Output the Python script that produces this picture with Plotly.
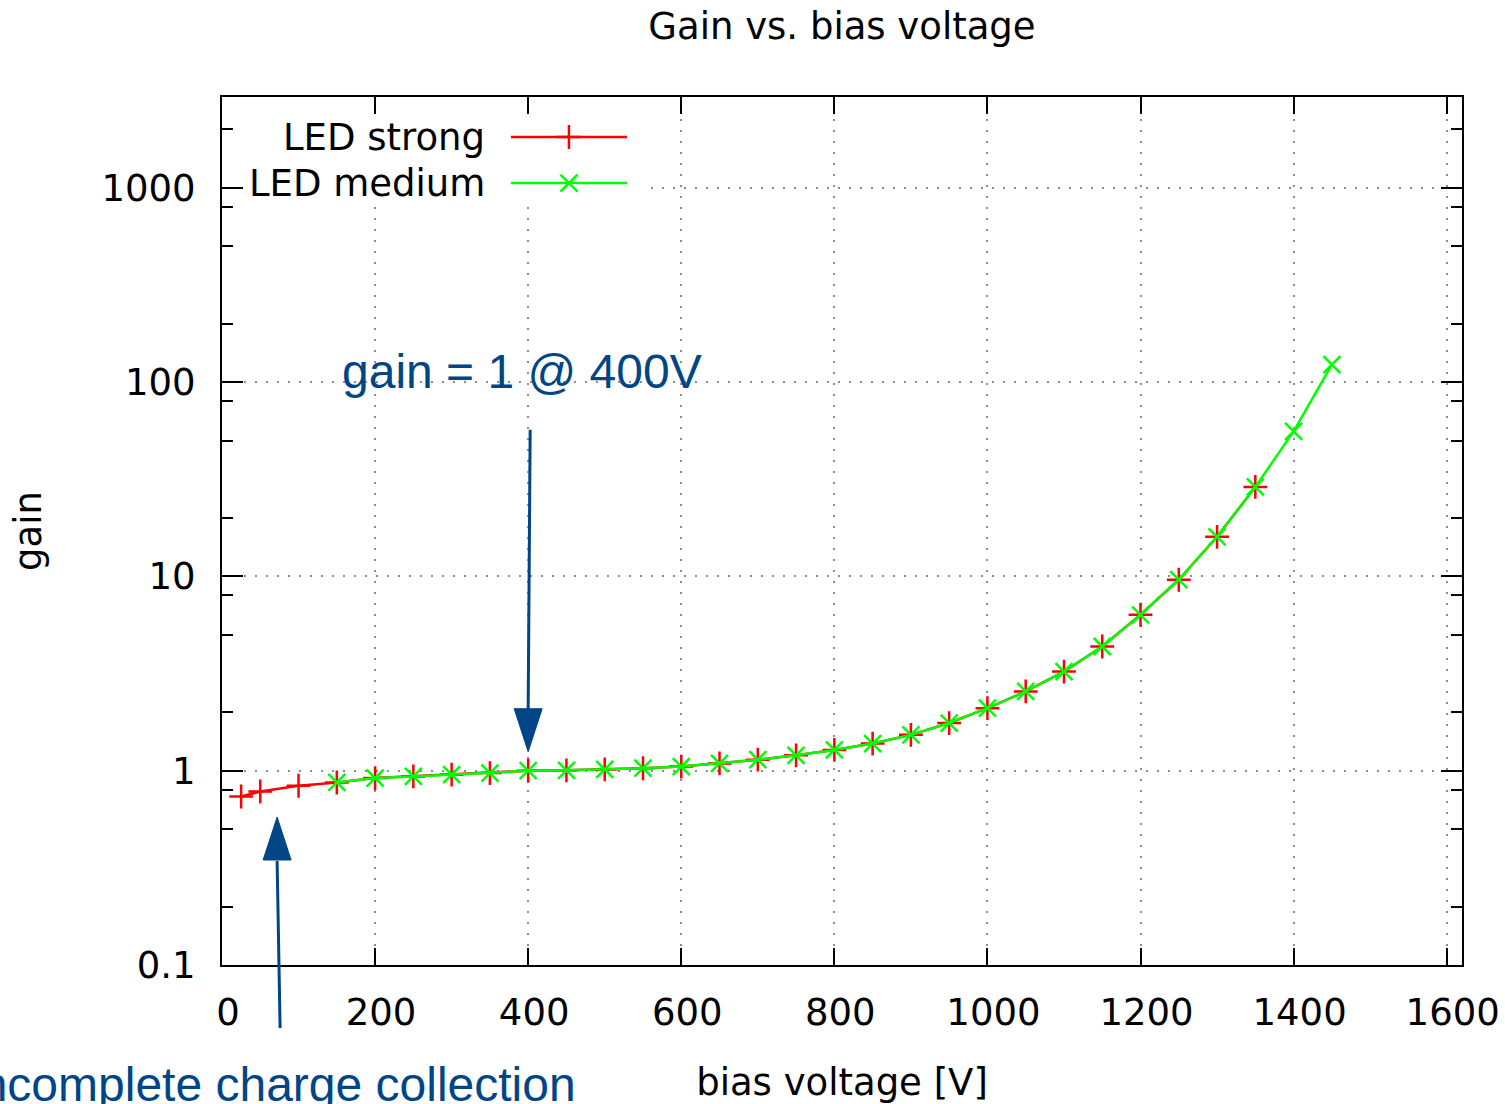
import plotly.graph_objects as go

# Gain measured at each bias voltage, for two LED intensities
voltage_strong = [25, 50, 100, 150, 200, 250, 300, 350, 400, 450, 500, 550, 600, 650,
                  700, 750, 800, 850, 900, 950, 1000, 1050, 1100, 1150, 1200, 1250, 1300, 1350]
gain_strong = [0.737, 0.782, 0.837, 0.87, 0.917, 0.935, 0.954, 0.973, 1.0, 1.005, 1.015, 1.03,
               1.05, 1.09, 1.14, 1.2, 1.28, 1.38, 1.53, 1.76, 2.1, 2.56, 3.24, 4.36, 6.35, 9.62,
               16.0, 28.9]

voltage_medium = [150, 200, 250, 300, 350, 400, 450, 500, 550, 600, 650, 700, 750, 800, 850,
                  900, 950, 1000, 1050, 1100, 1150, 1200, 1250, 1300, 1350, 1400, 1450]
gain_medium = [0.87, 0.917, 0.935, 0.954, 0.973, 1.0, 1.005, 1.015, 1.03, 1.05, 1.09, 1.14,
               1.2, 1.28, 1.38, 1.53, 1.76, 2.1, 2.56, 3.24, 4.36, 6.35, 9.62, 16.0, 28.9,
               55.8, 123.0]

series_names = ["LED strong", "LED medium"]
x_ticks = [0, 200, 400, 600, 800, 1000, 1200, 1400, 1600]
y_ticks = [0.1, 1, 10, 100, 1000]
y_tick_labels = ["0.1", "1", "10", "100", "1000"]
y_minor_ticks = [m * 10.0 ** e for e in range(-1, 4) for m in (2, 5, 8)]

# annotated operating points
nominal_voltage = 400
nominal_gain = 1.0
low_voltage_pointer = 72

FONT = "DejaVu Sans"
NOTE_FONT = "Liberation Sans"
NOTE_COLOR = "#004586"
RED = "#ff0000"
GREEN = "#00ff00"
FS = 37

fig = go.Figure()

fig.add_trace(go.Scatter(
    x=voltage_strong, y=gain_strong, name=series_names[0], mode="lines+markers",
    line=dict(color=RED, width=2.5),
    marker=dict(symbol="cross-thin-open", size=17, color=RED, line=dict(color=RED, width=2.5)),
    showlegend=False,
))
fig.add_trace(go.Scatter(
    x=voltage_medium, y=gain_medium, name=series_names[1], mode="lines+markers",
    line=dict(color=GREEN, width=2.5),
    marker=dict(symbol="x-thin-open", size=17, color=GREEN, line=dict(color=GREEN, width=2.5)),
    showlegend=False,
))

# gnuplot-style key on an overlay frame (0..1 in both directions):
# opaque white box, label on the left, line sample on the right
key_box_x = [0, 0.341, 0.341, 0, 0]
key_box_y = [0.8813, 0.8813, 1, 1, 0.8813]
fig.add_trace(go.Scatter(
    x=key_box_x, y=key_box_y, xaxis="x2", yaxis="y2", mode="lines", fill="toself",
    fillcolor="white", line=dict(width=0, color="white"), showlegend=False, hoverinfo="skip",
))

key_rows = [0.9539, 0.9009]
key_line_x = [0.233, 0.2798, 0.3266]
for name, row, color, sym in zip(series_names, key_rows, [RED, GREEN],
                                 ["cross-thin-open", "x-thin-open"]):
    fig.add_trace(go.Scatter(
        x=key_line_x, y=[row] * 3, xaxis="x2", yaxis="y2", mode="lines",
        line=dict(color=color, width=2.5), showlegend=False, hoverinfo="skip",
    ))
    fig.add_trace(go.Scatter(
        x=[key_line_x[1]], y=[row], xaxis="x2", yaxis="y2", mode="markers",
        marker=dict(symbol=sym, size=17, color=color, line=dict(color=color, width=2.5)),
        showlegend=False, hoverinfo="skip",
    ))
    fig.add_annotation(
        xref="paper", yref="paper", x=0.2137, y=row, xanchor="right", yanchor="middle",
        text=name, showarrow=False, font=dict(family=FONT, size=FS, color="black"),
    )

shapes = [
    # arrow down to gain = 1 at 400 V
    dict(type="path", xref="x", yref="y", xsizemode="pixel", ysizemode="pixel",
         xanchor=nominal_voltage, yanchor=nominal_gain,
         path="M0,61 L2,341", line=dict(color=NOTE_COLOR, width=3), layer="above"),
    dict(type="path", xref="x", yref="y", xsizemode="pixel", ysizemode="pixel",
         xanchor=nominal_voltage, yanchor=nominal_gain,
         path="M0,19 L-14,62 L14,62 Z", fillcolor=NOTE_COLOR,
         line=dict(color=NOTE_COLOR, width=1), layer="above"),
    # arrow up to the low-voltage region
    dict(type="path", xref="x", yref="y domain", xsizemode="pixel", ysizemode="pixel",
         xanchor=low_voltage_pointer, yanchor=0,
         path="M0,104 L3,-63", line=dict(color=NOTE_COLOR, width=3), layer="above"),
    dict(type="path", xref="x", yref="y domain", xsizemode="pixel", ysizemode="pixel",
         xanchor=low_voltage_pointer, yanchor=0,
         path="M0,148 L-14,105 L14,105 Z", fillcolor=NOTE_COLOR,
         line=dict(color=NOTE_COLOR, width=1), layer="above"),
]

fig.add_annotation(
    xref="paper", yref="paper", x=0.0952, y=0.6843, xanchor="left", yanchor="middle",
    text=f"gain = {nominal_gain:g} @ {nominal_voltage}V", showarrow=False,
    font=dict(family=NOTE_FONT, size=48, color=NOTE_COLOR),
)
fig.add_annotation(
    xref="paper", yref="paper", x=0.2871, y=-0.1382, xanchor="right", yanchor="middle",
    text="incomplete charge collection", showarrow=False,
    font=dict(family=NOTE_FONT, size=48, color=NOTE_COLOR),
)

grid = dict(showgrid=True, gridcolor="#8c8c8c", gridwidth=2, griddash="2px,9px")
frame = dict(showline=True, linecolor="black", linewidth=2, mirror="ticks", ticks="inside",
             tickcolor="black", tickwidth=2, zeroline=False, automargin=False,
             tickfont=dict(family=FONT, size=FS, color="black"))

fig.update_layout(
    width=1505, height=1104,
    margin=dict(l=222, r=43, t=97, b=139),
    paper_bgcolor="white", plot_bgcolor="white",
    template="none",
    shapes=shapes,
    title=dict(text="Gain vs. bias voltage", x=0.5, xref="paper", xanchor="center",
               y=0.976, yref="container", yanchor="middle",
               font=dict(family=FONT, size=FS, color="black")),
    xaxis=dict(range=[0, 1620], tickmode="array", tickvals=x_ticks, ticklen=17,
               ticklabelshift=6, ticklabelstandoff=14,
               title=dict(text="bias voltage [V]", standoff=36,
                          font=dict(family=FONT, size=FS, color="black")),
               **grid, **frame),
    yaxis=dict(type="log", range=[-1, 3.468], tickmode="array", tickvals=y_ticks,
               ticktext=y_tick_labels, ticklen=21, ticklabelstandoff=17,
               minor=dict(tickmode="array", tickvals=y_minor_ticks, ticks="inside",
                          ticklen=11, tickwidth=2, tickcolor="black", showgrid=False),
               title=dict(text="gain", standoff=48,
                          font=dict(family=FONT, size=FS, color="black")),
               **grid, **frame),
    xaxis2=dict(overlaying="x", range=[0, 1], visible=False, anchor="y2"),
    yaxis2=dict(overlaying="y", range=[0, 1], visible=False, anchor="x2"),
)

fig.write_html("out.html")
